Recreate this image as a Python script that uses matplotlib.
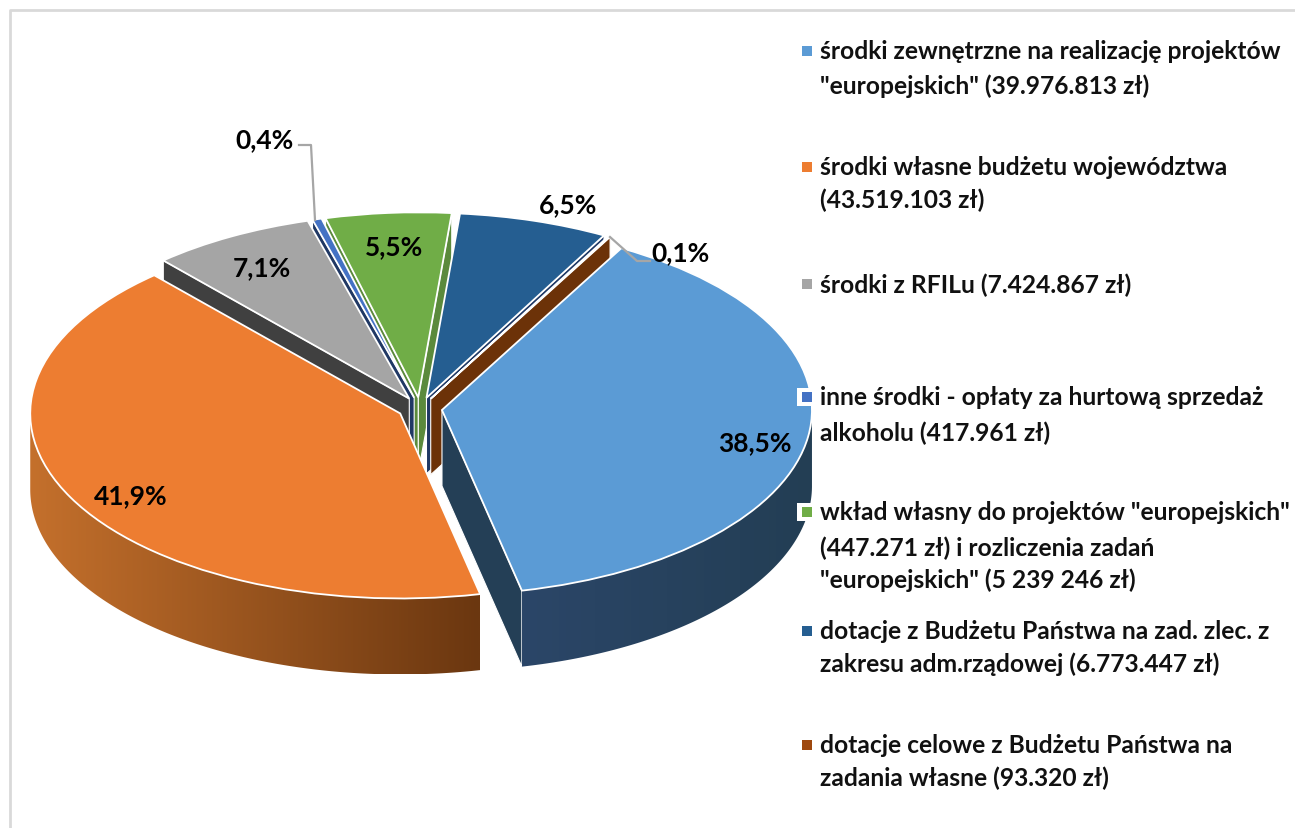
import numpy as np
import matplotlib
matplotlib.use('Agg')
import matplotlib.pyplot as plt
from matplotlib.colors import LinearSegmentedColormap
from matplotlib.patches import Polygon, Rectangle
from matplotlib.transforms import Affine2D

# kwoty w zl, kolejnosc jak w legendzie
kwoty = [39976813, 43519103, 7424867, 417961, 447271 + 5239246, 6773447, 93320]

legenda = [
    ['środki zewnętrzne na realizację projektów', '"europejskich" (39.976.813 zł)'],
    ['środki własne budżetu województwa', '(43.519.103 zł)'],
    ['środki z RFILu (7.424.867 zł)'],
    ['inne środki - opłaty za hurtową sprzedaż', 'alkoholu (417.961 zł)'],
    ['wkład własny do projektów "europejskich"', '(447.271 zł) i rozliczenia zadań', '"europejskich" (5 239 246 zł)'],
    ['dotacje z Budżetu Państwa na zad. zlec. z', 'zakresu adm.rządowej (6.773.447 zł)'],
    ['dotacje celowe z Budżetu Państwa na', 'zadania własne (93.320 zł)'],
]

kolory = ['#5B9BD5', '#ED7D31', '#A5A5A5', '#4472C4', '#70AD47', '#255E91', '#9E480E']
sciany = ['#243F56', '#7A4016', '#404040', '#203864', '#5B8A3C', '#1F3864', '#6C3208']
gradient = {0: ('#2B4668', '#233E54'), 1: ('#C4702C', '#6B3710')}
kolejnosc = [4, 3, 2, 5, 6, 1, 0]  # od tylu do przodu

# pozycje w pikselach
etykiety_xy = [(755, 443), (131, 496), (262, 268), (265, 140), (394, 247), (568, 205), (681, 253)]
legenda_y = [[52, 86], [168, 200], [285], [398, 433], [513, 548, 580], [632, 664], [746, 778]]
W, H = 1295, 829
cx, cy = 420, 409.4
rx, ry = 370, 185
glebokosc = 76 / ry

plt.rcParams['font.family'] = ['Lato', 'DejaVu Sans']

fig = plt.figure(figsize=(W / 100, H / 100), dpi=100)
ax = fig.add_axes([0, 0, 1, 1])

wedges, _ = ax.pie(kwoty, explode=[0.06] * len(kwoty), startangle=61, counterclock=False,
                   colors=kolory, wedgeprops={'edgecolor': 'white', 'linewidth': 1.3})

pix = Affine2D().scale(1, -1).translate(0, H)

for poz, i in enumerate(kolejnosc):
    w = wedges[i]
    x0, y0 = w.center
    w.set_zorder(2 * poz + 2)

    # sciany boczne przy krawedziach klina
    for th, normal in [(w.theta1, w.theta1 - 90), (w.theta2, w.theta2 + 90)]:
        if np.sin(np.radians(normal)) < 0:
            xk = x0 + w.r * np.cos(np.radians(th))
            yk = y0 + w.r * np.sin(np.radians(th))
            ax.fill([x0, xk, xk, x0], [y0, yk, yk - glebokosc, y0 - glebokosc],
                    facecolor=sciany[i], edgecolor='white', linewidth=0.8, zorder=2 * poz + 1)

    # sciana zewnetrzna
    t = np.linspace(w.theta1, w.theta2, 300)
    t = t[np.sin(np.radians(t)) <= 0]
    if len(t) > 1:
        xs = x0 + w.r * np.cos(np.radians(t))
        ys = y0 + w.r * np.sin(np.radians(t))
        obrys = np.column_stack([np.r_[xs, xs[::-1]], np.r_[ys, ys[::-1] - glebokosc]])
        c1, c2 = gradient.get(i, (sciany[i], sciany[i]))
        cmap = LinearSegmentedColormap.from_list('sc', [c1, c2])
        im = ax.imshow(np.linspace(0, 1, 256).reshape(1, -1), cmap=cmap, aspect='auto',
                       extent=(xs.min(), xs.max(), obrys[:, 1].min(), obrys[:, 1].max()),
                       zorder=2 * poz + 1)
        im.set_clip_path(Polygon(obrys, transform=ax.transData))

ax.set_aspect('auto')
ax.set_xlim(-cx / rx, (W - cx) / rx)
ax.set_ylim(-(H - cy) / ry, cy / ry)
ax.axis('off')

# linie odniesienia
ax.plot([299, 311, 315], [146, 146, 221], color='#A6A6A6', lw=1.6, transform=pix, zorder=30)
ax.plot([610, 637, 650], [238, 262, 262], color='#A6A6A6', lw=1.6, transform=pix, zorder=30)

suma = sum(kwoty)
for v, (x, y) in zip(kwoty, etykiety_xy):
    opis = f'{100 * v / suma:.1f}%'.replace('.', ',')
    ax.text(x, y, opis, transform=pix, ha='center', va='center', fontsize=19,
            fontweight='bold', color='black', zorder=31)

# legenda
for linie, ys, kolor in zip(legenda, legenda_y, kolory):
    ax.add_patch(Rectangle((797, ys[0] - 9), 18, 18, transform=pix, facecolor='white',
                           edgecolor='none', zorder=32))
    ax.add_patch(Rectangle((802, ys[0] - 5), 10, 10, transform=pix, facecolor=kolor,
                           edgecolor='none', zorder=33))
    for linia, y in zip(linie, ys):
        ax.text(820, y, linia, transform=pix, ha='left', va='center', fontsize=17.7,
                fontweight='bold', color='#111111', zorder=33)

# ramka
ax.plot([10, 10, W], [H, 11, 11], color='#D9D9D9', lw=2, transform=pix, zorder=40)

fig.savefig('out.png', dpi=100)
